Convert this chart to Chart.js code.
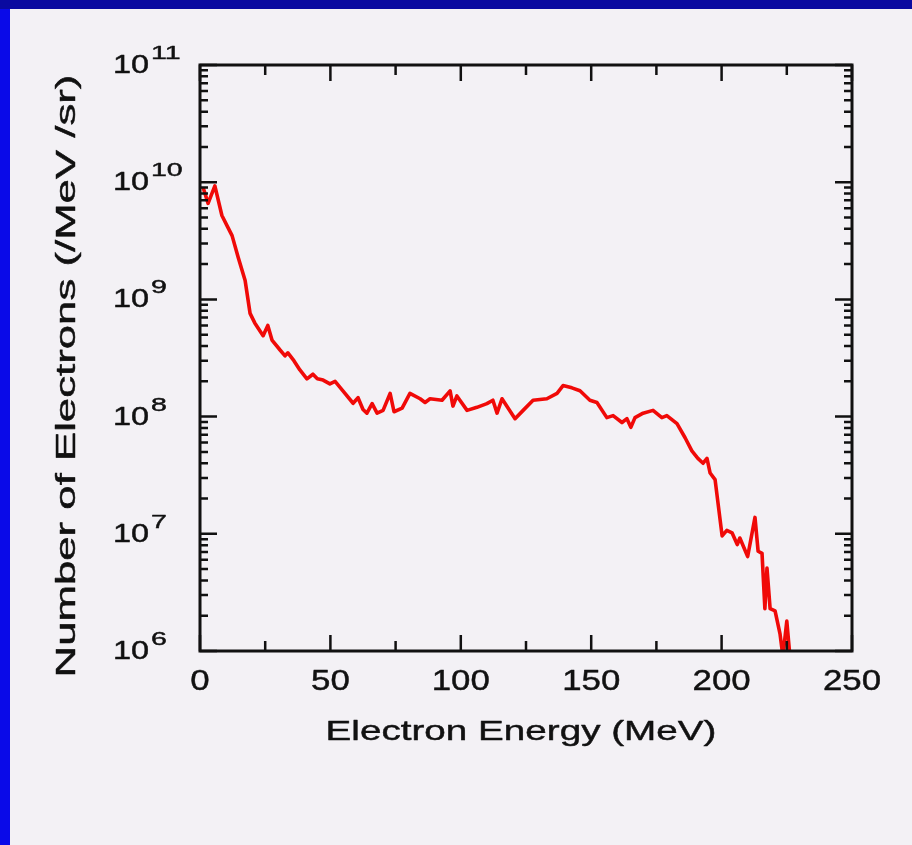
<!DOCTYPE html>
<html>
<head>
<meta charset="utf-8">
<script src="https://cdn.jsdelivr.net/npm/chart.js@4.4.1/dist/chart.umd.min.js"></script>
<style>
  html, body { margin: 0; padding: 0; }
  body { width: 912px; height: 845px; background: #0a0ae8; position: relative; overflow: hidden; }
  #topbar { position: absolute; left: 0; top: 0; width: 912px; height: 9px; background: #0a0aa0; }
  #sheet { position: absolute; left: 10px; top: 9px; width: 902px; height: 836px; background: #f3f1f5; }
</style>
</head>
<body>
<div id="topbar"></div>
<div id="sheet"><canvas id="spectrum"></canvas></div>
<script>
// electron spectrum
const energy = [1.2, 3.1, 5.7, 8.4, 10.5, 12.3, 14.6, 17.3, 19.2, 21.0, 24.2, 26.0, 27.6, 30.7, 32.6, 33.7,
  36.0, 38.3, 41.0, 43.3, 45.0, 47.2, 49.8, 51.8, 54.8, 58.7, 60.6, 62.5, 64.0, 66.0, 67.9, 70.2,
  72.9, 74.4, 77.5, 80.5, 84.4, 86.3, 88.2, 92.8, 95.9, 97.0, 98.5, 102.4, 106.2, 110.0, 112.3,
  113.9, 115.8, 120.8, 123.9, 127.7, 133.0, 136.9, 139.2, 142.6, 145.7, 149.5, 152.2, 156.0,
  158.4, 161.8, 163.7, 165.2, 166.8, 169.9, 173.7, 177.1, 179.0, 182.9, 186.0, 188.6, 190.9,
  192.9, 194.4, 195.6, 197.5, 200.2, 202.0, 204.0, 206.0, 207.0, 210.0, 212.8, 214.0, 215.5,
  216.6, 217.4, 218.6, 220.5, 222.4, 223.5, 225.0, 226.2];
const electrons = [9.0e9, 6.6e9, 9.3e9, 5.2e9, 4.2e9, 3.5e9, 2.3e9, 1.45e9, 7.6e8, 6.3e8, 4.9e8, 6.0e8,
  4.5e8, 3.7e8, 3.3e8, 3.5e8, 3.0e8, 2.5e8, 2.1e8, 2.3e8, 2.1e8, 2.05e8, 1.9e8, 2.0e8, 1.66e8,
  1.3e8, 1.45e8, 1.15e8, 1.07e8, 1.29e8, 1.07e8, 1.13e8, 1.58e8, 1.1e8, 1.18e8, 1.58e8, 1.42e8,
  1.32e8, 1.42e8, 1.38e8, 1.66e8, 1.23e8, 1.5e8, 1.13e8, 1.2e8, 1.29e8, 1.38e8, 1.07e8, 1.42e8,
  9.6e7, 1.13e8, 1.38e8, 1.42e8, 1.58e8, 1.84e8, 1.76e8, 1.66e8, 1.38e8, 1.32e8, 9.8e7, 1.02e8,
  8.9e7, 9.6e7, 8.1e7, 9.8e7, 1.07e8, 1.13e8, 9.8e7, 1.02e8, 8.7e7, 6.6e7, 5.1e7, 4.4e7, 4.0e7,
  4.4e7, 3.3e7, 2.9e7, 9.6e6, 1.07e7, 1.02e7, 8.1e6, 9.2e6, 6.4e6, 1.38e7, 7.1e6, 6.8e6, 2.3e6,
  5.1e6, 2.3e6, 2.2e6, 1.4e6, 9.0e5, 1.8e6, 9.0e5];

const xTicks = [0, 50, 100, 150, 200, 250];
const xMinorTicks = [25, 75, 125, 175, 225];
const yExponents = [6, 7, 8, 9, 10, 11];
const xTitle = "Electron Energy (MeV)";
const yTitle = "Number of Electrons (/MeV /sr)";

const FONT = '"Liberation Sans", Arial, sans-serif';

// draw text stretched horizontally by sx, a thin stroke makes it a bit heavier
function stretchText(ctx, text, x, y, px, sx, align) {
  ctx.save();
  ctx.font = px + "px " + FONT;
  const w = ctx.measureText(text).width * sx;
  let left = x;
  if (align === "center") left = x - w / 2;
  else if (align === "right") left = x - w;
  ctx.translate(left, y);
  ctx.scale(sx, 1);
  ctx.textAlign = "left";
  ctx.textBaseline = "alphabetic";
  ctx.lineWidth = 0.45;
  ctx.lineJoin = "round";
  ctx.fillText(text, 0, 0);
  ctx.strokeText(text, 0, 0);
  ctx.restore();
  return w;
}

const framePlugin = {
  id: "frame",
  afterDatasetsDraw(chart) {
    const ctx = chart.ctx;
    const a = chart.chartArea;
    const xs = chart.scales.x, ys = chart.scales.y;
    ctx.save();
    ctx.strokeStyle = "#111";
    ctx.fillStyle = "#111";

    // inward ticks on all four sides
    ctx.lineWidth = 2.5;
    ctx.beginPath();
    xTicks.concat(xMinorTicks).forEach(v => {
      const px = xs.getPixelForValue(v);
      const len = xTicks.includes(v) ? 16 : 10;
      ctx.moveTo(px, a.bottom); ctx.lineTo(px, a.bottom - len);
      ctx.moveTo(px, a.top); ctx.lineTo(px, a.top + len);
    });
    yExponents.forEach(e => {
      for (let m = 1; m <= 9; m++) {
        if (e === 11 && m > 1) break;
        const py = ys.getPixelForValue(m * Math.pow(10, e));
        const len = m === 1 ? 17 : 8;
        ctx.moveTo(a.left, py); ctx.lineTo(a.left + len, py);
        ctx.moveTo(a.right, py); ctx.lineTo(a.right - len, py);
      }
    });
    ctx.stroke();

    // frame
    ctx.lineWidth = 3;
    ctx.strokeRect(a.left, a.top, a.right - a.left, a.bottom - a.top);

    // x tick labels
    xTicks.forEach(v => {
      stretchText(ctx, String(v), xs.getPixelForValue(v), a.bottom + 39, 29, 1.2, "center");
    });

    // y tick labels as 10 with raised exponent
    yExponents.forEach(e => {
      const py = ys.getPixelForValue(Math.pow(10, e));
      stretchText(ctx, "10", 103, py + 8, 25, 1.3, "left");
      stretchText(ctx, String(e), 141, py - 6, 19, 1.5, "left");
    });

    // axis titles
    stretchText(ctx, xTitle, (a.left + a.right) / 2 - 5, a.bottom + 89, 28, 1.38, "center");
    ctx.save();
    ctx.translate(65, 367);
    ctx.rotate(-Math.PI / 2);
    stretchText(ctx, yTitle, 0, 0, 27, 1.62, "center");
    ctx.restore();

    ctx.restore();
  }
};

const canvas = document.getElementById("spectrum");
canvas.width = 902;
canvas.height = 836;
canvas.style.width = "902px";
canvas.style.height = "836px";

new Chart(canvas.getContext("2d"), {
  type: "line",
  data: {
    datasets: [{
      label: "spectrum",
      data: energy.map((e, i) => ({ x: e, y: electrons[i] })),
      borderColor: "#f00a08",
      borderWidth: 3.6,
      borderJoinStyle: "round",
      pointRadius: 0,
      tension: 0,
      fill: false
    }]
  },
  options: {
    responsive: false,
    animation: false,
    layout: { padding: { left: 190, right: 60, top: 56, bottom: 194 } },
    plugins: { legend: { display: false }, tooltip: { enabled: false } },
    scales: {
      x: {
        type: "linear", min: 0, max: 250,
        grid: { display: false, drawTicks: false },
        border: { display: false },
        ticks: { display: false },
        afterFit: s => { s.height = 0; }
      },
      y: {
        type: "logarithmic", min: 1e6, max: 1e11,
        grid: { display: false, drawTicks: false },
        border: { display: false },
        ticks: { display: false },
        afterFit: s => { s.width = 0; }
      }
    }
  },
  plugins: [framePlugin]
});
</script>
</body>
</html>
